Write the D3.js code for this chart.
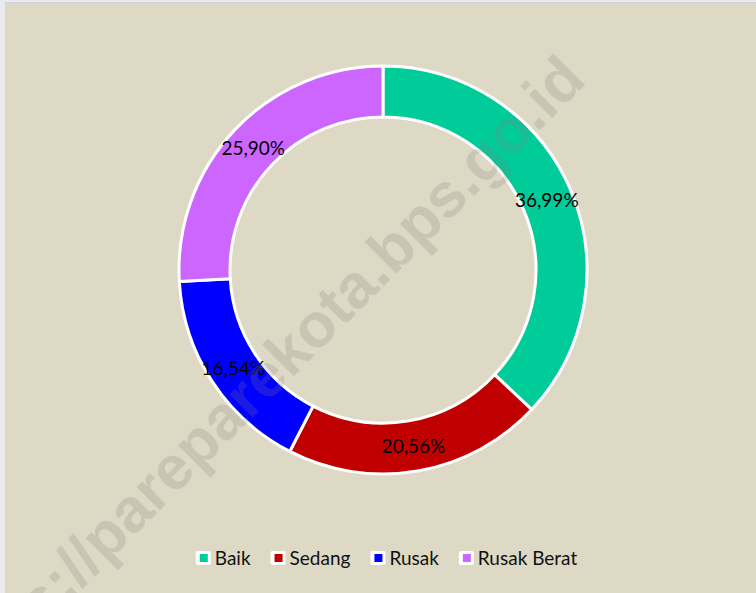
<!DOCTYPE html>
<html>
<head>
<meta charset="utf-8">
<script src="https://cdn.jsdelivr.net/npm/d3@7"></script>
<style>
  body { margin: 0; background: #e9e9ee; }
  svg { display: block; }
</style>
</head>
<body>
<div id="chart"></div>
<script>
// Data
var categories = ["Baik", "Sedang", "Rusak", "Rusak Berat"];
var values = [36.99, 20.56, 16.54, 25.90];
var labels = ["36,99%", "20,56%", "16,54%", "25,90%"];
var colors = ["#00CC99", "#C00000", "#0000FF", "#CC66FF"];

var svgWidth = 756;
var svgHeight = 593;

var svg = d3.select("#chart")
  .append("svg")
  .attr("width", svgWidth)
  .attr("height", svgHeight);

// Chart area background
svg.append("rect")
  .attr("x", 5.5)
  .attr("y", 2.5)
  .attr("width", svgWidth - 5)
  .attr("height", svgHeight - 2)
  .attr("fill", "#DDD9C4")
  .attr("stroke", "#d3d3dc")
  .attr("stroke-width", 1);

var cx = 383, cy = 270;
var outerR = 204, innerR = 153;

var pie = d3.pie().sort(null).value(d => d.value);
var arc = d3.arc().innerRadius(innerR).outerRadius(outerR);

var data = categories.map((c, i) => ({ name: c, value: values[i], label: labels[i], color: colors[i] }));
var arcs = pie(data);

var chartGroup = svg.append("g")
  .attr("transform", `translate(${cx}, ${cy})`);

chartGroup.selectAll("path")
  .data(arcs)
  .enter()
  .append("path")
  .attr("d", arc)
  .attr("fill", d => d.data.color)
  .attr("stroke", "white")
  .attr("stroke-width", 3)
  .attr("stroke-linejoin", "round");

// Watermark
svg.append("text")
  .text("https://pareparekota.bps.go.id")
  .attr("transform", "translate(588, 82) rotate(-45)")
  .attr("text-anchor", "end")
  .attr("font-family", "Liberation Sans, Arial, sans-serif")
  .attr("font-weight", "bold")
  .attr("font-size", 62)
  .attr("fill", "#808080")
  .attr("opacity", 0.21);

// Percent labels at arc centroids
chartGroup.append("g")
  .selectAll("text")
  .data(arcs)
  .enter()
  .append("text")
  .text(d => d.data.label)
  .attr("x", d => arc.centroid(d)[0])
  .attr("y", d => arc.centroid(d)[1])
  .attr("text-anchor", "middle")
  .attr("dominant-baseline", "central")
  .attr("font-family", "Lato, sans-serif")
  .attr("font-size", "19px")
  .attr("fill", "#000");

// Legend
var legend = svg.append("g");
var xPos = 0;
data.forEach(function(d) {
  var item = legend.append("g").attr("transform", `translate(${xPos}, 0)`);
  item.append("rect")
    .attr("x", 0).attr("y", -7)
    .attr("width", 15).attr("height", 14)
    .attr("rx", 2)
    .attr("fill", "white");
  item.append("rect")
    .attr("x", 4).attr("y", -4)
    .attr("width", 8).attr("height", 8)
    .attr("fill", d.color);
  var t = item.append("text")
    .text(d.name)
    .attr("x", 19)
    .attr("y", 6.5)
    .attr("font-family", "Lato, sans-serif")
    .attr("font-size", "19px")
    .attr("fill", "#111");
  xPos += 19 + t.node().getComputedTextLength() + 20;
});
var legendWidth = xPos - 20;
legend.attr("transform", `translate(${386.5 - legendWidth / 2}, 558)`);
</script>
</body>
</html>
